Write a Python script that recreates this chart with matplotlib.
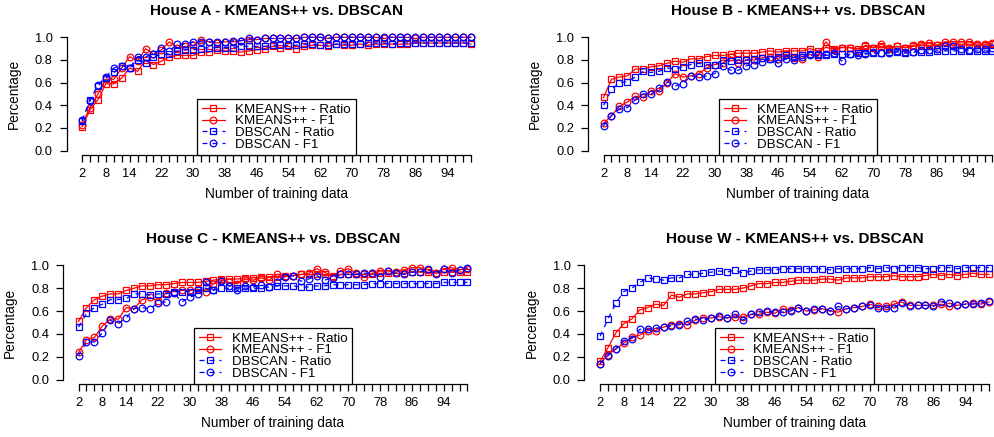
import matplotlib
matplotlib.use("Agg")
import matplotlib.pyplot as plt
import numpy as np

plt.rcParams['font.family'] = ['Liberation Sans', 'DejaVu Sans']

x = list(range(2, 101, 2))
xtick_labels = [2, 8, 14, 22, 30, 38, 46, 54, 62, 70, 78, 86, 94]
yticks = [0.0, 0.2, 0.4, 0.6, 0.8, 1.0]
series_labels = ["KMEANS++ - Ratio", "KMEANS++ - F1", "DBSCAN - Ratio", "DBSCAN - F1"]
titles = ["House A - KMEANS++ vs. DBSCAN", "House B - KMEANS++ vs. DBSCAN",
          "House C - KMEANS++ vs. DBSCAN", "House W - KMEANS++ vs. DBSCAN"]

# House A
a_km_ratio = [0.21, 0.36, 0.45, 0.59, 0.59, 0.64, 0.73, 0.70, 0.80, 0.76,
              0.79, 0.83, 0.84, 0.84, 0.84, 0.87, 0.87, 0.89, 0.88, 0.88,
              0.87, 0.88, 0.89, 0.90, 0.92, 0.91, 0.92, 0.90, 0.92, 0.93,
              0.93, 0.92, 0.94, 0.93, 0.93, 0.94, 0.93, 0.94, 0.94, 0.94,
              0.94, 0.94, 0.95, 0.95, 0.95, 0.95, 0.95, 0.95, 0.95, 0.94]
a_km_f1 = [0.23, 0.38, 0.50, 0.63, 0.63, 0.73, 0.83, 0.79, 0.90, 0.85,
           0.89, 0.96, 0.91, 0.92, 0.93, 0.975, 0.96, 0.95, 0.96, 0.96,
           0.97, 0.98, 0.98, 0.99, 0.99, 0.99, 0.99, 0.99, 1.0, 1.0,
           1.0, 0.99, 1.0, 1.0, 1.0, 1.0, 1.0, 1.0, 0.99, 1.0,
           1.0, 1.0, 0.99, 1.0, 1.0, 1.0, 1.0, 1.0, 1.0, 1.0]
a_db_ratio = [0.26, 0.45, 0.57, 0.64, 0.69, 0.75, 0.73, 0.80, 0.77, 0.83,
              0.85, 0.85, 0.88, 0.89, 0.89, 0.90, 0.91, 0.91, 0.91, 0.91,
              0.92, 0.92, 0.92, 0.92, 0.93, 0.93, 0.93, 0.93, 0.94, 0.94,
              0.93, 0.93, 0.94, 0.94, 0.94, 0.94, 0.95, 0.95, 0.95, 0.94,
              0.95, 0.95, 0.95, 0.95, 0.95, 0.95, 0.95, 0.95, 0.95, 0.95]
a_db_f1 = [0.27, 0.44, 0.58, 0.65, 0.73, 0.75, 0.73, 0.83, 0.83, 0.85,
           0.91, 0.88, 0.94, 0.94, 0.96, 0.96, 0.96, 0.96, 0.96, 0.97,
           0.97, 0.99, 0.98, 0.99, 0.99, 0.99, 0.99, 0.99, 1.0, 1.0,
           1.0, 0.99, 1.0, 1.0, 1.0, 1.0, 1.0, 1.0, 1.0, 1.0,
           1.0, 1.0, 1.0, 1.0, 1.0, 1.0, 1.0, 1.0, 1.0, 1.0]

# House B
b_km_ratio = [0.47, 0.63, 0.65, 0.66, 0.72, 0.72, 0.74, 0.75, 0.77, 0.79,
              0.78, 0.81, 0.81, 0.83, 0.84, 0.84, 0.85, 0.86, 0.86, 0.86,
              0.87, 0.88, 0.87, 0.88, 0.88, 0.88, 0.90, 0.88, 0.91, 0.90,
              0.91, 0.91, 0.90, 0.92, 0.91, 0.92, 0.90, 0.92, 0.91, 0.92,
              0.93, 0.93, 0.93, 0.93, 0.94, 0.94, 0.94, 0.93, 0.93, 0.94]
b_km_f1 = [0.24, 0.31, 0.39, 0.43, 0.48, 0.47, 0.53, 0.53, 0.60, 0.68,
           0.65, 0.66, 0.68, 0.73, 0.76, 0.77, 0.83, 0.77, 0.80, 0.80,
           0.82, 0.83, 0.81, 0.85, 0.82, 0.81, 0.85, 0.83, 0.96, 0.89,
           0.91, 0.91, 0.88, 0.93, 0.91, 0.94, 0.91, 0.92, 0.91, 0.93,
           0.94, 0.95, 0.93, 0.96, 0.96, 0.96, 0.96, 0.94, 0.94, 0.95]
b_db_ratio = [0.40, 0.54, 0.60, 0.61, 0.65, 0.70, 0.69, 0.70, 0.73, 0.72,
              0.74, 0.76, 0.77, 0.76, 0.76, 0.80, 0.79, 0.80, 0.80, 0.81,
              0.82, 0.81, 0.83, 0.84, 0.83, 0.84, 0.85, 0.84, 0.84, 0.85,
              0.85, 0.85, 0.86, 0.86, 0.86, 0.86, 0.87, 0.87, 0.86, 0.87,
              0.87, 0.87, 0.88, 0.88, 0.88, 0.88, 0.88, 0.88, 0.88, 0.88]
b_db_f1 = [0.22, 0.31, 0.37, 0.38, 0.45, 0.50, 0.50, 0.55, 0.61, 0.57,
           0.59, 0.66, 0.65, 0.66, 0.68, 0.75, 0.71, 0.71, 0.75, 0.76,
           0.78, 0.81, 0.77, 0.81, 0.80, 0.83, 0.84, 0.85, 0.85, 0.86,
           0.79, 0.85, 0.84, 0.85, 0.87, 0.86, 0.86, 0.88, 0.87, 0.87,
           0.89, 0.89, 0.90, 0.92, 0.92, 0.90, 0.89, 0.90, 0.90, 0.91]

# House C
c_km_ratio = [0.51, 0.63, 0.70, 0.73, 0.75, 0.75, 0.78, 0.80, 0.82, 0.82,
              0.83, 0.83, 0.84, 0.85, 0.85, 0.85, 0.86, 0.87, 0.88, 0.88,
              0.88, 0.89, 0.89, 0.90, 0.90, 0.90, 0.91, 0.91, 0.92, 0.92,
              0.92, 0.92, 0.91, 0.92, 0.92, 0.92, 0.92, 0.92, 0.93, 0.93,
              0.93, 0.93, 0.94, 0.94, 0.94, 0.93, 0.94, 0.94, 0.94, 0.94]
c_km_f1 = [0.24, 0.35, 0.37, 0.47, 0.53, 0.53, 0.63, 0.62, 0.70, 0.72,
           0.69, 0.76, 0.77, 0.78, 0.78, 0.79, 0.77, 0.84, 0.87, 0.85,
           0.84, 0.88, 0.87, 0.89, 0.87, 0.92, 0.90, 0.91, 0.92, 0.93,
           0.97, 0.94, 0.90, 0.95, 0.97, 0.93, 0.90, 0.93, 0.95, 0.95,
           0.94, 0.96, 0.98, 0.98, 0.96, 0.93, 0.97, 0.98, 0.96, 0.97]
c_db_ratio = [0.46, 0.58, 0.63, 0.66, 0.70, 0.70, 0.71, 0.75, 0.75, 0.74,
              0.75, 0.75, 0.77, 0.77, 0.77, 0.78, 0.80, 0.78, 0.80, 0.80,
              0.80, 0.80, 0.80, 0.80, 0.81, 0.82, 0.82, 0.82, 0.81, 0.81,
              0.82, 0.82, 0.83, 0.83, 0.83, 0.83, 0.83, 0.84, 0.84, 0.84,
              0.84, 0.84, 0.84, 0.84, 0.84, 0.84, 0.85, 0.85, 0.85, 0.85]
c_db_f1 = [0.21, 0.33, 0.33, 0.41, 0.52, 0.49, 0.54, 0.62, 0.63, 0.62,
           0.67, 0.68, 0.76, 0.68, 0.72, 0.75, 0.85, 0.78, 0.86, 0.82,
           0.78, 0.82, 0.81, 0.83, 0.81, 0.85, 0.90, 0.91, 0.86, 0.88,
           0.91, 0.87, 0.89, 0.92, 0.92, 0.92, 0.93, 0.93, 0.90, 0.95,
           0.93, 0.92, 0.94, 0.94, 0.97, 0.92, 0.97, 0.93, 0.96, 0.98]

# House W
w_km_ratio = [0.16, 0.28, 0.41, 0.49, 0.53, 0.61, 0.63, 0.66, 0.65, 0.74,
              0.72, 0.75, 0.75, 0.76, 0.77, 0.79, 0.79, 0.79, 0.80, 0.82,
              0.84, 0.84, 0.85, 0.85, 0.86, 0.87, 0.87, 0.87, 0.88, 0.88,
              0.87, 0.89, 0.89, 0.89, 0.90, 0.90, 0.90, 0.91, 0.90, 0.90,
              0.90, 0.91, 0.92, 0.91, 0.92, 0.91, 0.92, 0.93, 0.92, 0.92]
w_km_f1 = [0.14, 0.22, 0.27, 0.32, 0.37, 0.39, 0.43, 0.43, 0.46, 0.48,
           0.49, 0.48, 0.52, 0.54, 0.54, 0.55, 0.54, 0.55, 0.55, 0.57,
           0.57, 0.59, 0.58, 0.62, 0.61, 0.63, 0.60, 0.61, 0.62, 0.60,
           0.59, 0.62, 0.63, 0.64, 0.66, 0.64, 0.64, 0.66, 0.68, 0.65,
           0.65, 0.65, 0.65, 0.66, 0.64, 0.65, 0.66, 0.67, 0.66, 0.68]
w_db_ratio = [0.38, 0.53, 0.67, 0.77, 0.80, 0.85, 0.89, 0.88, 0.87, 0.89,
              0.89, 0.92, 0.92, 0.93, 0.94, 0.95, 0.94, 0.96, 0.93, 0.95,
              0.96, 0.96, 0.96, 0.97, 0.97, 0.97, 0.97, 0.97, 0.97, 0.96,
              0.97, 0.97, 0.97, 0.97, 0.98, 0.97, 0.98, 0.97, 0.98, 0.98,
              0.98, 0.97, 0.97, 0.98, 0.98, 0.97, 0.98, 0.98, 0.98, 0.98]
w_db_f1 = [0.14, 0.21, 0.27, 0.34, 0.36, 0.44, 0.44, 0.45, 0.46, 0.47,
           0.48, 0.51, 0.53, 0.52, 0.54, 0.56, 0.54, 0.57, 0.52, 0.57,
           0.59, 0.60, 0.59, 0.59, 0.60, 0.63, 0.60, 0.62, 0.62, 0.60,
           0.64, 0.62, 0.63, 0.64, 0.65, 0.63, 0.63, 0.63, 0.67, 0.64,
           0.65, 0.65, 0.64, 0.68, 0.67, 0.65, 0.66, 0.66, 0.67, 0.69]

houses = [
    (a_km_ratio, a_km_f1, a_db_ratio, a_db_f1),
    (b_km_ratio, b_km_f1, b_db_ratio, b_db_f1),
    (c_km_ratio, c_km_f1, c_db_ratio, c_db_f1),
    (w_km_ratio, w_km_f1, w_db_ratio, w_db_f1),
]

W, H = 995, 437
fig = plt.figure(figsize=(W / 100, H / 100), dpi=100)

# axes rectangles in pixels: left, top, bottom
rects_px = [(66.5, 32.8, 155.2), (588.0, 32.8, 155.2),
            (63.0, 260.7, 384.3), (584.5, 260.7, 384.3)]
ax_w = 420.0

styles = [
    dict(color='#FF0000', marker='s', linestyle='-'),
    dict(color='#FF0000', marker='o', linestyle='-'),
    dict(color='#0000FF', marker='s', linestyle=(0, (4, 4))),
    dict(color='#0000FF', marker='o', linestyle=(0, (4, 4))),
]

xr = (x[-1] - x[0]) * 0.04
for (l, t, b), title, data in zip(rects_px, titles, houses):
    ax = fig.add_axes([l / W, 1 - b / H, ax_w / W, (b - t) / H])
    for ys, st, lab in zip(data, styles, series_labels):
        ax.plot(x, ys, label=lab, color=st['color'], marker=st['marker'],
                linestyle=st['linestyle'], linewidth=0.9, markersize=4.8,
                markerfacecolor='none', markeredgewidth=0.9, clip_on=False)
    ax.set_xlim(x[0] - xr, x[-1] + xr)
    ax.set_ylim(-0.04, 1.04)
    for s in ['top', 'right']:
        ax.spines[s].set_visible(False)
    ax.spines['left'].set_bounds(0, 1)
    ax.spines['bottom'].set_bounds(x[0], x[-1])
    ax.spines['left'].set_linewidth(0.9)
    ax.spines['bottom'].set_linewidth(0.9)
    ax.set_xticks(x)
    ax.set_xticklabels([str(v) if v in xtick_labels else '' for v in x])
    ax.set_yticks(yticks)
    ax.set_yticklabels([f"{v:.1f}" for v in yticks])
    ax.tick_params(axis='both', direction='out', length=5, width=0.9,
                   labelsize=9.3, pad=4)
    ax.tick_params(axis='y', pad=5)
    ax.set_title(title, fontsize=11, fontweight='bold', pad=13)
    ax.set_xlabel("Number of training data", fontsize=9.8, labelpad=5)
    ax.set_ylabel("Percentage", fontsize=9.8, labelpad=10)
    leg = ax.legend(loc='lower center', bbox_to_anchor=(0.5, 0.0),
                    borderaxespad=0, fancybox=False, framealpha=1,
                    edgecolor='black', fontsize=9.6, handlelength=1.7,
                    handletextpad=0.8, borderpad=0.35, labelspacing=-0.05)
    leg.get_frame().set_linewidth(0.9)

fig.savefig("out.png", dpi=100)
